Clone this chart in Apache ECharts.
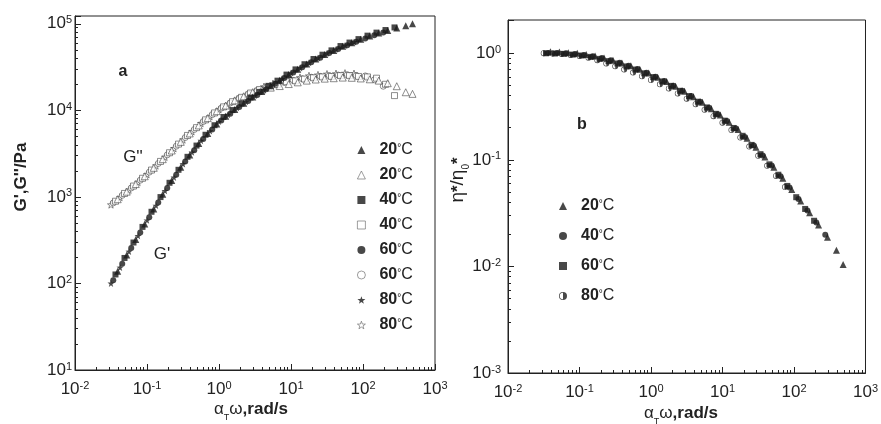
<!DOCTYPE html>
<html>
<head>
<meta charset="utf-8">
<script src="https://cdn.jsdelivr.net/npm/echarts@6/dist/echarts.min.js"></script>
<style>
  html, body { margin: 0; padding: 0; background: #fff; }
  #chart { width: 881px; height: 424px; }
</style>
</head>
<body>
<div id="chart"></div>
<script>
// reduced frequency aT*w (rad/s), one sweep per temperature
const w80 = [0.0316, 0.0422, 0.0562, 0.075, 0.1, 0.1334, 0.1778, 0.2371, 0.3162, 0.4217, 0.5623, 0.75, 1, 1.334, 1.778, 2.371, 3.162, 4.217, 5.623, 7.5, 10, 13.34, 17.78, 23.71, 31.62, 42.17, 56.23, 75]
const w60 = [0.034, 0.0453, 0.0604, 0.0806, 0.1075, 0.1433, 0.1911, 0.2548, 0.3398, 0.4532, 0.6043, 0.8058, 1.075, 1.433, 1.911, 2.548, 3.398, 4.532, 6.043, 8.058, 10.75, 14.33, 19.11, 25.48, 33.98, 45.32, 60.43, 80.58, 107.5, 143.3, 191.1]
const w40 = [0.0365, 0.0487, 0.0649, 0.0866, 0.1155, 0.154, 0.2054, 0.2738, 0.3652, 0.487, 0.6494, 0.866, 1.155, 1.54, 2.054, 2.738, 3.652, 4.87, 6.494, 8.66, 11.55, 15.4, 20.54, 27.38, 36.52, 48.7, 64.94, 86.6, 115.5, 154, 205.4, 273.8]
const w20 = [0.0392, 0.0523, 0.0698, 0.0931, 0.1241, 0.1655, 0.2207, 0.2943, 0.3924, 0.5233, 0.6978, 0.9306, 1.241, 1.655, 2.207, 2.943, 3.924, 5.233, 6.978, 9.306, 12.41, 16.55, 22.07, 29.43, 39.24, 52.33, 69.78, 93.06, 124.1, 165.5, 220.7, 294.3, 392.4, 487]

// storage modulus G' (Pa)
const gp80 = [100, 153, 234, 355, 537, 794, 1175, 1679, 2399, 3273, 4467, 5754, 7413, 8913, 10720, 12590, 14790, 17180, 19950, 23170, 26920, 30900, 35480, 40270, 45710, 50700, 56230, 61660]
const gp60 = [109, 169, 256, 388, 583, 862, 1268, 1800, 2557, 3467, 4673, 6020, 7615, 9156, 10940, 12860, 15010, 17540, 20250, 23660, 27320, 31360, 36020, 40640, 45850, 51160, 56400, 61850, 67820, 73510, 79210]
const gp40 = [127, 197, 297, 450, 673, 995, 1455, 2055, 2903, 3916, 5222, 6727, 8372, 10070, 11960, 14060, 16330, 19180, 22020, 25870, 29710, 34100, 39160, 43940, 49300, 55310, 60650, 66510, 72910, 79040, 84690, 90740]
const gp20 = [138, 213, 322, 487, 724, 1071, 1546, 2197, 3046, 4135, 5412, 6972, 8521, 10250, 12100, 14220, 16520, 19290, 22280, 26020, 29870, 34300, 39150, 44190, 49280, 54970, 60270, 66090, 72040, 78090, 83670, 89650, 94970, 100000]

// loss modulus G'' (Pa)
const gpp80 = [813, 989, 1202, 1479, 1820, 2291, 2884, 3631, 4571, 5689, 7079, 8511, 10230, 11750, 13490, 14960, 16600, 18840, 20420, 21620, 22910, 23990, 25120, 25700, 26300, 26600, 26910, 26600]
const gpp60 = [852, 1043, 1268, 1560, 1931, 2431, 3060, 3853, 4850, 6000, 7421, 8922, 10600, 12170, 13810, 15400, 16990, 18300, 19730, 21020, 22140, 23180, 24130, 24690, 25120, 25560, 25700, 25270, 24980, 22500, 19000]
const gpp40 = [891, 1096, 1334, 1641, 2042, 2570, 3236, 4074, 5129, 6310, 7762, 9333, 10960, 12590, 14130, 15850, 17380, 18620, 19950, 21380, 21940, 22970, 23780, 24330, 24620, 25190, 25190, 24620, 24330, 23510, 20000, 14800]
const gpp20 = [940, 1149, 1407, 1731, 2167, 2727, 3434, 4323, 5409, 6695, 8137, 9782, 11360, 13040, 14550, 16230, 17340, 18300, 19080, 20120, 21060, 22050, 22700, 23230, 23500, 23900, 23770, 23360, 22830, 22050, 20590, 18990, 16180, 15490]

// reduced complex viscosity eta*/eta0*
const eta80 = [1.0, 0.993, 0.985, 0.962, 0.940, 0.905, 0.86, 0.80, 0.754, 0.703, 0.659, 0.608, 0.561, 0.511, 0.467, 0.419, 0.375, 0.332, 0.295, 0.257, 0.223, 0.190, 0.162, 0.133, 0.109, 0.0879, 0.0706, 0.0555]
const eta60 = [0.999, 0.994, 0.987, 0.971, 0.952, 0.924, 0.885, 0.843, 0.801, 0.752, 0.703, 0.648, 0.597, 0.544, 0.494, 0.444, 0.396, 0.351, 0.310, 0.270, 0.233, 0.199, 0.168, 0.138, 0.113, 0.0907, 0.0725, 0.0569, 0.0446, 0.0346, 0.0268]
const eta40 = [1.005, 1.003, 0.997, 0.982, 0.964, 0.935, 0.901, 0.858, 0.812, 0.763, 0.710, 0.655, 0.601, 0.548, 0.495, 0.445, 0.396, 0.351, 0.308, 0.268, 0.231, 0.197, 0.164, 0.136, 0.110, 0.0883, 0.0702, 0.0551, 0.0430, 0.0334, 0.0258, 0.0198]
const eta20 = [1.031, 1.027, 1.013, 0.997, 0.971, 0.942, 0.903, 0.861, 0.811, 0.762, 0.706, 0.652, 0.596, 0.543, 0.489, 0.439, 0.390, 0.346, 0.302, 0.263, 0.225, 0.192, 0.159, 0.131, 0.106, 0.0850, 0.0672, 0.0527, 0.0411, 0.0318, 0.0245, 0.0188, 0.0142, 0.0104]

// minor tick values
const xMinor = [0.02, 0.03, 0.04, 0.05, 0.06, 0.07, 0.08, 0.09, 0.2, 0.3, 0.4, 0.5, 0.6, 0.7, 0.8, 0.9,
    2, 3, 4, 5, 6, 7, 8, 9, 20, 30, 40, 50, 60, 70, 80, 90, 200, 300, 400, 500, 600, 700, 800, 900]
const gMinor = [20, 30, 40, 50, 60, 70, 80, 90, 200, 300, 400, 500, 600, 700, 800, 900,
    2000, 3000, 4000, 5000, 6000, 7000, 8000, 9000, 20000, 30000, 40000, 50000, 60000, 70000, 80000, 90000]
const etaMinor = [0.002, 0.003, 0.004, 0.005, 0.006, 0.007, 0.008, 0.009, 0.02, 0.03, 0.04, 0.05, 0.06, 0.07, 0.08, 0.09,
    0.2, 0.3, 0.4, 0.5, 0.6, 0.7, 0.8, 0.9]

const FONT = '"Liberation Sans", Arial, sans-serif'
const INK = '#222'
const STAR = 'path://M0,-10 L2.35,-3.24 L9.51,-3.09 L3.8,1.24 L5.88,8.09 L0,4 L-5.88,8.09 L-3.8,1.24 L-9.51,-3.09 L-2.35,-3.24 Z'
const HALF = 'path://M0,-10 A10,10 0 1,1 0,10 A10,10 0 1,1 0,-10 Z M0,-8 A8,8 0 1,0 0,8 A8,8 0 1,0 0,-8 Z M0,-8 A8,8 0 0,1 0,8 Z'

// only decades get a label, written as 10 with a raised exponent
function powLabel(v) {
    const e = Math.log10(v)
    if (Math.abs(e - Math.round(e)) > 1e-6) return ''
    return '{b|10}{e|' + Math.round(e) + '}'
}

const labelRich = {
    b: { fontSize: 17, fontFamily: FONT, color: INK, lineHeight: 18 },
    e: { fontSize: 11, fontFamily: FONT, color: INK, lineHeight: 11, verticalAlign: 'top' }
}

function majorAxis(grid, pos, min, max, margin) {
    return {
        gridIndex: grid, position: pos, type: 'log', logBase: 10, min: min, max: max,
        axisLine: { show: true, onZero: false, lineStyle: { color: INK, width: 1 } },
        axisTick: { show: true, inside: true, length: 6, lineStyle: { color: INK } },
        axisLabel: { formatter: powLabel, margin: margin, rich: labelRich },
        splitLine: { show: false }
    }
}

// minor log ticks drawn on a plain value axis laid over the same span (exponent units)
function minorAxis(grid, pos, min, max, ticks) {
    return {
        gridIndex: grid, position: pos, offset: 0, type: 'value',
        min: Math.log10(min), max: Math.log10(max),
        axisLine: { show: false, onZero: false },
        axisTick: { show: true, inside: true, length: 3, customValues: ticks.map(Math.log10), lineStyle: { color: INK } },
        axisLabel: { show: false },
        splitLine: { show: false }
    }
}

function pts(xs, ys) {
    return xs.map((x, i) => [x, ys[i]])
}

function dots(name, xs, ys, symbol, filled, axis, size) {
    return {
        name: name, type: 'scatter',
        xAxisIndex: axis, yAxisIndex: axis,
        symbol: symbol, symbolSize: size,
        itemStyle: filled ? { color: '#1a1a1a' } : { color: '#fff', borderColor: '#333', borderWidth: 0.7 },
        emphasis: { disabled: true },
        data: pts(xs, ys)
    }
}

function degLabel(name) {
    const t = name.split(' ')[0].replace('°C', '')
    return '{sp|}{n|' + t + '}{d|°}{c|C}'
}

const legendRich = {
    sp: { width: 9 },
    n: { fontSize: 16, fontWeight: 'bold', fontFamily: FONT, color: INK, lineHeight: 14 },
    d: { fontSize: 10, fontFamily: FONT, color: INK, lineHeight: 14, verticalAlign: 'top' },
    c: { fontSize: 16, fontFamily: FONT, color: INK, lineHeight: 14 }
}

function key(name, icon, filled) {
    return {
        name: name, icon: icon,
        itemStyle: filled ? { color: '#1a1a1a', borderWidth: 0 } : { color: '#fff', borderColor: '#666', borderWidth: 0.8 }
    }
}

const seriesList = [
    // G'' (hollow) under G' (filled)
    dots("80°C G''", w80, gpp80, STAR, false, 0, 7),
    dots("60°C G''", w60, gpp60, 'circle', false, 0, 6),
    dots("40°C G''", w40, gpp40, 'rect', false, 0, 6),
    dots("20°C G''", w20, gpp20, 'triangle', false, 0, 7),
    dots("80°C G'", w80, gp80, STAR, true, 0, 7),
    dots("60°C G'", w60, gp60, 'circle', true, 0, 6),
    dots("40°C G'", w40, gp40, 'rect', true, 0, 6),
    dots("20°C G'", w20, gp20, 'triangle', true, 0, 7),
    // eta
    dots('80°C eta', w80, eta80, HALF, true, 1, 6),
    dots('60°C eta', w60, eta60, 'rect', true, 1, 6),
    dots('40°C eta', w40, eta40, 'circle', true, 1, 6),
    dots('20°C eta', w20, eta20, 'triangle', true, 1, 7)
]

const chart = echarts.init(document.getElementById('chart'), null, { renderer: 'canvas' })

const xRich = {
    g: { fontSize: 17, fontFamily: FONT, fill: INK, lineHeight: 18 },
    s: { fontSize: 9, fontFamily: FONT, fill: INK, lineHeight: 9, verticalAlign: 'bottom', padding: [0, 0, -4, 0] },
    r: { fontSize: 17, fontWeight: 'bold', fontFamily: FONT, fill: INK, lineHeight: 18 }
}

const option = {
    animation: false,
    backgroundColor: '#fff',
    textStyle: { fontFamily: FONT },
    grid: [
        { left: 75, top: 16, width: 360, height: 354, show: true, borderColor: INK, borderWidth: 1 },
        { left: 508, top: 20, width: 361, height: 353, show: true, borderColor: INK, borderWidth: 1 }
    ],
    xAxis: [
        majorAxis(0, 'bottom', 0.01, 1000, 10),
        majorAxis(1, 'bottom', 0.01, 1000, 10),
        minorAxis(0, 'bottom', 0.01, 1000, xMinor),
        minorAxis(1, 'bottom', 0.01, 1000, xMinor)
    ],
    yAxis: [
        majorAxis(0, 'left', 10, 123000, 3),
        majorAxis(1, 'left', 0.001, 2.05, 7),
        minorAxis(0, 'left', 10, 123000, gMinor),
        minorAxis(1, 'left', 0.001, 2.05, etaMinor)
    ],
    legend: [
        {
            data: [
                key("20°C G'", 'triangle', true), key("20°C G''", 'triangle', false),
                key("40°C G'", 'rect', true), key("40°C G''", 'rect', false),
                key("60°C G'", 'circle', true), key("60°C G''", 'circle', false),
                key("80°C G'", STAR, true), key("80°C G''", STAR, false)
            ],
            orient: 'vertical', left: 352, top: 137,
            itemWidth: 8, itemHeight: 8, itemGap: 9,
            selectedMode: false,
            formatter: degLabel,
            textStyle: { rich: legendRich }
        },
        {
            data: [
                key('20°C eta', 'triangle', true), key('40°C eta', 'circle', true),
                key('60°C eta', 'rect', true), key('80°C eta', HALF, true)
            ],
            orient: 'vertical', left: 554, top: 193,
            itemWidth: 8, itemHeight: 8, itemGap: 14,
            selectedMode: false,
            formatter: degLabel,
            textStyle: { rich: legendRich }
        }
    ],
    graphic: [
        // axis titles
        {
            type: 'text', x: 21, y: 177, rotation: Math.PI / 2,
            style: { text: "G',G''/Pa", fontSize: 17, fontWeight: 'bold', fontFamily: FONT, fill: INK, align: 'center', verticalAlign: 'middle' }
        },
        {
            type: 'text', x: 251, y: 409,
            style: { text: '{g|α}{s|T}{g|ω}{r|,rad/s}', align: 'center', verticalAlign: 'middle', rich: xRich }
        },
        {
            type: 'text', x: 681, y: 413,
            style: { text: '{g|α}{s|T}{g|ω}{r|,rad/s}', align: 'center', verticalAlign: 'middle', rich: xRich }
        },
        {
            type: 'text', x: 458, y: 180, rotation: Math.PI / 2,
            style: {
                text: '{g|η}{a|*}{g|/η}{s|0}{a|*}', align: 'center', verticalAlign: 'middle',
                rich: {
                    g: { fontSize: 19, fontFamily: FONT, fill: INK, lineHeight: 20 },
                    a: { fontSize: 17, fontWeight: 'bold', fontFamily: FONT, fill: INK, lineHeight: 20 },
                    s: { fontSize: 10, fontFamily: FONT, fill: INK, lineHeight: 10, verticalAlign: 'bottom', padding: [0, 0, -3, 0] }
                }
            }
        },
        // panel marks and curve names
        {
            type: 'text', x: 123, y: 72,
            style: { text: 'a', fontSize: 16, fontWeight: 'bold', fontFamily: FONT, fill: INK, align: 'center', verticalAlign: 'middle' }
        },
        {
            type: 'text', x: 582, y: 125,
            style: { text: 'b', fontSize: 16, fontWeight: 'bold', fontFamily: FONT, fill: INK, align: 'center', verticalAlign: 'middle' }
        },
        {
            type: 'text', x: 133, y: 157,
            style: { text: "G''", fontSize: 17, fontFamily: FONT, fill: INK, align: 'center', verticalAlign: 'middle' }
        },
        {
            type: 'text', x: 162, y: 254,
            style: { text: "G'", fontSize: 17, fontFamily: FONT, fill: INK, align: 'center', verticalAlign: 'middle' }
        }
    ],
    series: seriesList
}

chart.setOption(option)
</script>
</body>
</html>
